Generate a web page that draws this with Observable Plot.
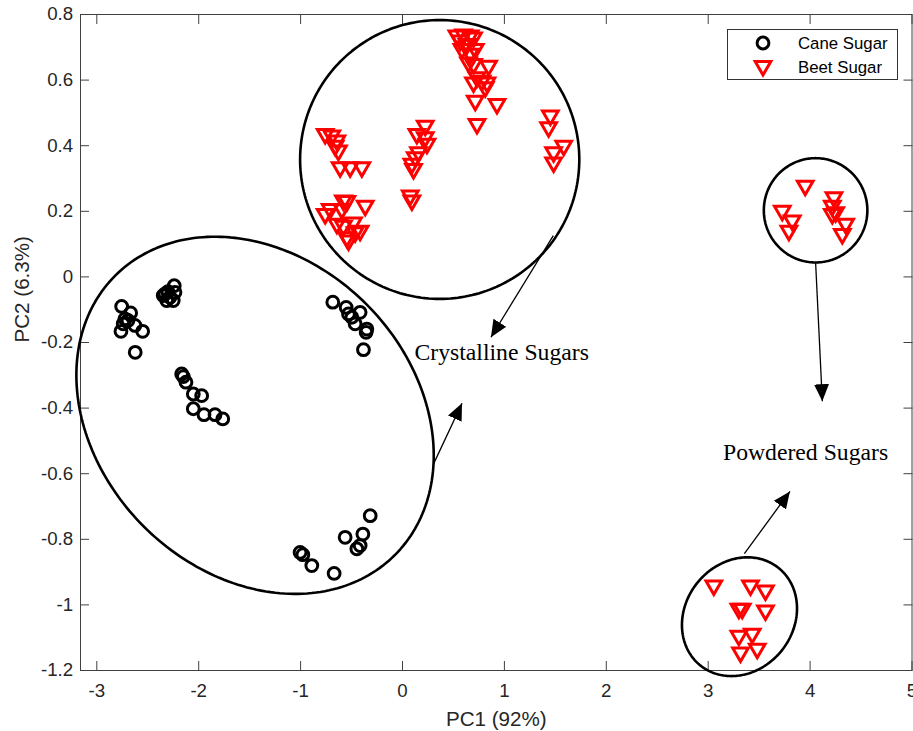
<!DOCTYPE html>
<html>
<head>
<meta charset="utf-8">
<script src="https://cdn.jsdelivr.net/npm/d3@7"></script>
<script src="https://cdn.jsdelivr.net/npm/@observablehq/plot@0.6"></script>
<style>
  body { margin: 0; background: #fff; }
  #chart { position: relative; width: 913px; height: 731px; }
  #legend { position: absolute; left: 727px; top: 29px; }
</style>
</head>
<body>
<div id="chart"></div>
<script>
// PCA scores: cane sugar samples (circles)
const caneX = [
  -2.756, -2.668, -2.724, -2.741, -2.763, -2.626, -2.550, -2.623, -2.694,
  -2.348, -2.240, -2.233, -2.314, -2.282, -2.331, -2.250, -2.302,
  -2.167, -2.151, -2.125, -2.053, -1.971, -2.053, -1.948, -1.840, -1.764,
  -0.684, -0.553, -0.530, -0.416, -0.465, -0.357, -0.383, -0.497, -0.350,
  -0.317, -0.563, -0.389, -0.448, -0.416, -1.005, -0.978, -0.890, -0.671
];
const caneY = [
  -0.090, -0.110, -0.128, -0.143, -0.166, -0.148, -0.166, -0.230, -0.133,
  -0.057, -0.027, -0.047, -0.072, -0.062, -0.052, -0.072, -0.045,
  -0.296, -0.304, -0.321, -0.357, -0.362, -0.402, -0.420, -0.420, -0.433,
  -0.077, -0.093, -0.113, -0.108, -0.143, -0.169, -0.222, -0.123, -0.159,
  -0.728, -0.794, -0.784, -0.829, -0.819, -0.840, -0.847, -0.880, -0.904
];

// PCA scores: beet sugar samples (down triangles)
const beetX = [
  0.534, 0.599, 0.665, 0.567, 0.633, 0.697, 0.583, 0.714, 0.665, 0.648,
  0.697, 0.845, 0.731, 0.780, 0.829, 0.812, 0.697, 0.714, 0.927, 0.731,
  1.451, 1.434, 1.582, 1.483, 1.483,
  -0.759, -0.694, -0.644, -0.661, -0.629, -0.612, -0.514, -0.399,
  0.223, 0.141, 0.223, 0.240, 0.157, 0.125, 0.092, 0.108, 0.076, 0.092,
  -0.580, -0.546, -0.366, -0.710, -0.595, -0.759, -0.644, -0.580, -0.481,
  -0.416, -0.465, -0.546, -0.530,
  3.952, 3.727, 3.825, 3.792, 4.234, 4.218, 4.251, 4.218, 4.349, 4.316,
  3.055, 3.415, 3.562, 3.301, 3.334, 3.562, 3.301, 3.432, 3.317, 3.481
];
const beetY = [
  0.736, 0.739, 0.736, 0.721, 0.710, 0.730, 0.695, 0.695, 0.680, 0.654,
  0.649, 0.644, 0.609, 0.598, 0.593, 0.578, 0.593, 0.537, 0.527, 0.466,
  0.492, 0.456, 0.400, 0.380, 0.349,
  0.436, 0.431, 0.416, 0.400, 0.385, 0.334, 0.334, 0.334,
  0.461, 0.436, 0.426, 0.406, 0.380, 0.365, 0.345, 0.329, 0.248, 0.233,
  0.233, 0.231, 0.217, 0.207, 0.207, 0.192, 0.162, 0.156, 0.166,
  0.141, 0.136, 0.121, 0.111,
  0.278, 0.202, 0.172, 0.141, 0.243, 0.217, 0.197, 0.192, 0.162, 0.131,
  -0.941, -0.941, -0.956, -1.012, -1.012, -1.017, -1.094, -1.088, -1.145, -1.134
];

// Group outlines: centre and two conjugate semi-axis vectors (data units)
const ringCx = [-1.447, 0.365, 4.054, 3.307];
const ringCy = [-0.422, 0.358, 0.203, -1.036];
const ringUx = [1.372, 1.370, 0.508, 0.079];
const ringUy = [-0.426, 0.000, 0.000, 0.181];
const ringVx = [-1.092, 0.000, 0.000, 0.559];
const ringVy = [-0.339, 0.425, 0.159, 0.000];

// Annotation arrows (tail -> head) and their labels
const arrowX1 = [1.480, 0.305, 4.054, 3.355];
const arrowY1 = [0.126, -0.570, 0.044, -0.844];
const arrowX2 = [0.868, 0.584, 4.120, 3.802];
const arrowY2 = [-0.184, -0.385, -0.379, -0.654];
const noteText = ["Crystalline Sugars", "Powdered Sugars"];
const noteX = [0.118, 3.145];
const noteY = [-0.253, -0.558];

// Axis ticks
const xTicks = [-3, -2, -1, 0, 1, 2, 3, 4, 5];
const yTicks = [-1.2, -1, -0.8, -0.6, -0.4, -0.2, 0, 0.2, 0.4, 0.6, 0.8];

const cane = caneX.map((x, i) => ({x, y: caneY[i]}));
const beet = beetX.map((x, i) => ({x, y: beetY[i]}));

const outline = [];
ringCx.forEach((cx, k) => {
  for (let j = 0; j <= 240; j++) {
    const t = (j / 240) * 2 * Math.PI;
    outline.push({
      ring: k,
      x: cx + ringUx[k] * Math.cos(t) + ringVx[k] * Math.sin(t),
      y: ringCy[k] + ringUy[k] * Math.cos(t) + ringVy[k] * Math.sin(t)
    });
  }
});
const arrows = arrowX1.map((x1, i) => ({x1, y1: arrowY1[i], x2: arrowX2[i], y2: arrowY2[i]}));
const notes = noteText.map((text, i) => ({text, x: noteX[i], y: noteY[i]}));

// Solid triangular arrowhead
function solidHead(color, context) {
  const ns = "http://www.w3.org/2000/svg";
  const doc = context.document;
  const m = doc.createElementNS(ns, "marker");
  m.setAttribute("viewBox", "-17 -8.5 17 17");
  m.setAttribute("markerWidth", "17");
  m.setAttribute("markerHeight", "17");
  m.setAttribute("markerUnits", "userSpaceOnUse");
  m.setAttribute("orient", "auto");
  m.setAttribute("refX", "0");
  m.setAttribute("refY", "0");
  const p = doc.createElementNS(ns, "path");
  p.setAttribute("d", "M0,0L-17,-7.5L-17,7.5Z");
  p.setAttribute("fill", color);
  p.setAttribute("stroke", "none");
  m.appendChild(p);
  return m;
}

const fmt = d => String(d);
const axisColor = "#262626";

const chart = Plot.plot({
  width: 913,
  height: 731,
  marginLeft: 80,
  marginRight: 1.5,
  marginTop: 14,
  marginBottom: 61,
  x: {domain: [-3.16, 5]},
  y: {domain: [-1.2, 0.8]},
  style: {
    fontFamily: "'Liberation Sans', Arial, Helvetica, sans-serif",
    fontSize: "18.7px",
    color: axisColor,
    background: "#fff",
    overflow: "visible"
  },
  marks: [
    Plot.frame({stroke: "#404040", strokeWidth: 1}),
    Plot.axisX(xTicks, {anchor: "bottom", tickSize: -9, tickPadding: 22.6, tickFormat: fmt, label: null, stroke: "#404040"}),
    Plot.axisX(xTicks, {anchor: "top", tickSize: -9, tickFormat: () => "", label: null, stroke: "#404040"}),
    Plot.axisY(yTicks, {anchor: "left", tickSize: -9, tickPadding: 16.3, tickFormat: fmt, label: null, stroke: "#404040"}),
    Plot.axisY(yTicks, {anchor: "right", tickSize: -9, tickFormat: () => "", label: null, stroke: "#404040"}),
    Plot.text(["PC1 (92%)"], {text: d => d, frameAnchor: "bottom", dy: 55, lineAnchor: "bottom", fontSize: 20.6, fill: axisColor}),
    Plot.text(["PC2 (6.3%)"], {text: d => d, frameAnchor: "left", dx: -66.5, rotate: -90, lineAnchor: "top", fontSize: 20.6, fill: axisColor}),
    Plot.line(outline, {x: "x", y: "y", z: "ring", stroke: "#000", strokeWidth: 2.6, clip: false}),
    Plot.link(arrows, {x1: "x1", y1: "y1", x2: "x2", y2: "y2", stroke: "#000", strokeWidth: 1.3, markerEnd: solidHead}),
    Plot.text(notes, {x: "x", y: "y", text: "text", textAnchor: "start", lineAnchor: "bottom",
      fontFamily: "'Liberation Serif', 'Times New Roman', serif", fontSize: 23.7, fill: "#000"}),
    Plot.dot(cane, {x: "x", y: "y", r: 5.9, stroke: "#000", strokeWidth: 3, fill: "none"}),
    Plot.dot(beet, {x: "x", y: "y", symbol: "triangle", rotate: 180, r: 5.8, stroke: "#ff0000", strokeWidth: 3, fill: "none"})
  ]
});

const host = document.getElementById("chart");
host.appendChild(chart);

// Legend box in the upper right of the axes
const lg = d3.create("svg").attr("id", "legend").attr("width", 171).attr("height", 51);
lg.append("rect").attr("x", 0.5).attr("y", 0.5).attr("width", 170).attr("height", 50)
  .attr("fill", "#fff").attr("stroke", "#333").attr("stroke-width", 1);
lg.append("circle").attr("cx", 36).attr("cy", 14).attr("r", 5.9)
  .attr("fill", "none").attr("stroke", "#000").attr("stroke-width", 3);
lg.append("path").attr("d", d3.symbol(d3.symbolTriangle, Math.PI * 5.8 * 5.8)())
  .attr("transform", "translate(36,37) rotate(180)")
  .attr("fill", "none").attr("stroke", "#ff0000").attr("stroke-width", 3);
const labels = ["Cane Sugar", "Beet Sugar"];
labels.forEach((t, i) => {
  lg.append("text").attr("x", 71).attr("y", 14 + i * 24).attr("dy", "0.35em")
    .attr("font-family", "'Liberation Sans', Arial, Helvetica, sans-serif")
    .attr("font-size", 16.8).attr("fill", "#000").text(t);
});
host.appendChild(lg.node());
</script>
</body>
</html>
